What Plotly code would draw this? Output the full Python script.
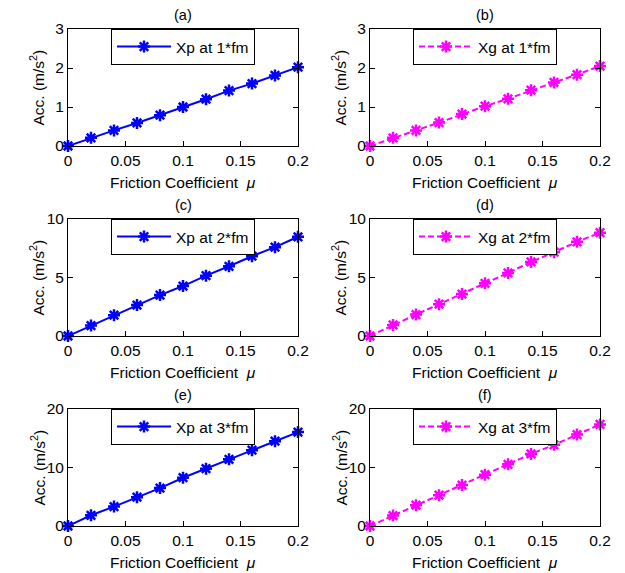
import plotly.graph_objects as go

# Friction coefficient sweep
mu = [0, 0.02, 0.04, 0.06, 0.08, 0.10, 0.12, 0.14, 0.16, 0.18, 0.20]

# Acceleration of the pinion (Xp) and gear (Xg) at 1x, 2x, 3x mesh frequency
xp_1fm = [0, 0.21, 0.40, 0.59, 0.79, 1.00, 1.20, 1.42, 1.60, 1.81, 2.02]
xg_1fm = [0, 0.21, 0.40, 0.60, 0.82, 1.02, 1.21, 1.43, 1.63, 1.83, 2.05]
xp_2fm = [0, 0.89, 1.78, 2.64, 3.50, 4.27, 5.16, 5.96, 6.82, 7.59, 8.48]
xg_2fm = [0, 0.95, 1.83, 2.72, 3.58, 4.50, 5.39, 6.33, 7.16, 8.05, 8.83]
xp_3fm = [0, 1.83, 3.32, 4.93, 6.48, 8.25, 9.80, 11.40, 12.95, 14.50, 16.05]
xg_3fm = [0, 1.78, 3.55, 5.27, 6.99, 8.77, 10.54, 12.32, 13.87, 15.64, 17.36]

panel_tags = ["(a)", "(b)", "(c)", "(d)", "(e)", "(f)"]
series_names = ["Xp at 1*fm", "Xg at 1*fm", "Xp at 2*fm",
                "Xg at 2*fm", "Xp at 3*fm", "Xg at 3*fm"]
series_vals = [xp_1fm, xg_1fm, xp_2fm, xg_2fm, xp_3fm, xg_3fm]
y_ranges = [[0, 3], [0, 3], [0, 10], [0, 10], [0, 20], [0, 20]]
y_ticks = [[0, 1, 2, 3], [0, 1, 2, 3], [0, 5, 10], [0, 5, 10],
           [0, 10, 20], [0, 10, 20]]
x_ticks = [0, 0.05, 0.1, 0.15, 0.2]

W, H = 625, 573
FONT = "Liberation Sans, Arial, sans-serif"
FS = 15.5

# axes boxes in pixels: (left, right) columns and (top, bottom) rows
cols = [(68, 298), (370, 600)]
rows = [(29, 146), (219, 336), (409, 526)]

fig = go.Figure()
layout = dict(
    width=W, height=H,
    margin=dict(l=0, r=0, t=0, b=0, pad=0, autoexpand=False),
    paper_bgcolor="white", plot_bgcolor="white",
    font=dict(family=FONT, size=FS, color="black"),
    showlegend=True,
)
annotations = []

for i in range(6):
    r, c = divmod(i, 2)
    x0, x1 = cols[c][0] / W, cols[c][1] / W
    y0, y1 = 1 - rows[r][1] / H, 1 - rows[r][0] / H
    sfx = "" if i == 0 else str(i + 1)
    is_p = (c == 0)
    color = "#0000FF" if is_p else "#FF00FF"
    leg = "legend" if i == 0 else f"legend{i + 1}"

    fig.add_trace(go.Scatter(
        x=mu, y=series_vals[i], name=series_names[i],
        xaxis="x" + sfx, yaxis="y" + sfx, legend=leg,
        mode="lines+markers", cliponaxis=False,
        line=dict(color=color, width=2, dash="solid" if is_p else "6px,3px"),
        marker=dict(symbol="asterisk-open", size=10, color=color,
                    line=dict(color=color, width=2.5)),
    ))

    axis_common = dict(
        showline=True, linecolor="black", linewidth=1, mirror="ticks",
        ticks="inside", ticklen=5, tickcolor="black", showgrid=False,
        zeroline=False, automargin=False,
        tickfont=dict(family=FONT, size=FS, color="black"),
    )
    layout["xaxis" + sfx] = dict(
        axis_common, domain=[x0, x1], range=[0, 0.2],
        tickvals=x_ticks, ticktext=["0", "0.05", "0.1", "0.15", "0.2"],
        anchor="y" + sfx,
    )
    layout["yaxis" + sfx] = dict(
        axis_common, domain=[y0, y1], range=y_ranges[i],
        tickvals=y_ticks[i], anchor="x" + sfx,
    )
    layout[leg] = dict(
        x=(x0 + x1) / 2, xanchor="center", y=y1, yanchor="top",
        bordercolor="black", borderwidth=1, bgcolor="white",
        font=dict(family=FONT, size=FS, color="black"),
        itemwidth=54, tracegroupgap=0,
    )

    cx = (cols[c][0] + cols[c][1]) / 2
    # panel tag above each axes
    annotations.append(dict(
        text=panel_tags[i], x=cx / W, y=1 - (rows[r][0] - 14) / H,
        xref="paper", yref="paper", showarrow=False,
        xanchor="center", yanchor="middle",
        font=dict(family=FONT, size=FS - 1, color="black"),
    ))
    # x-axis title
    annotations.append(dict(
        text="Friction Coefficient  <i>μ</i>", x=cx / W,
        y=1 - (rows[r][1] + 36) / H,
        xref="paper", yref="paper", showarrow=False,
        xanchor="center", yanchor="middle",
        font=dict(family=FONT, size=FS, color="black"),
    ))
    # y-axis title
    annotations.append(dict(
        text="Acc. (m/s<sup>2</sup>)", x=(cols[c][0] - 30) / W,
        y=1 - ((rows[r][0] + rows[r][1]) / 2) / H,
        xref="paper", yref="paper", showarrow=False, textangle=-90,
        xanchor="center", yanchor="middle",
        font=dict(family=FONT, size=FS, color="black"),
    ))

layout["annotations"] = annotations
fig.update_layout(**layout)
fig.write_html("out.html")
